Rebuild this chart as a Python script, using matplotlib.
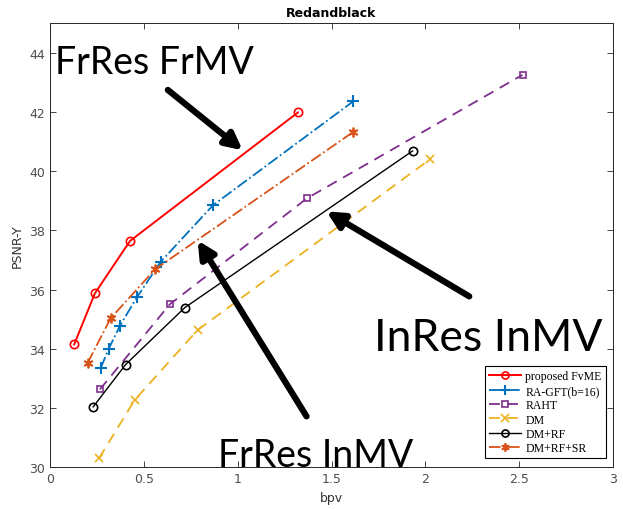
import matplotlib
matplotlib.use("Agg")
from matplotlib import pyplot as plt

# rate-distortion curves (bpv, PSNR-Y)
fvme_bpv = [0.129, 0.239, 0.426, 1.321]
fvme_psnr = [34.15, 35.87, 37.64, 41.98]
ragft_bpv = [0.271, 0.312, 0.372, 0.463, 0.590, 0.869, 1.617]
ragft_psnr = [33.36, 33.99, 34.77, 35.74, 36.94, 38.85, 42.36]
raht_bpv = [0.266, 0.638, 1.369, 2.518]
raht_psnr = [32.63, 35.50, 39.08, 43.25]
dm_bpv = [0.261, 0.451, 0.786, 2.025]
dm_psnr = [30.30, 32.27, 34.63, 40.40]
dmrf_bpv = [0.230, 0.403, 0.718, 1.932]
dmrf_psnr = [32.04, 33.47, 35.39, 40.68]
dmrfsr_bpv = [0.201, 0.323, 0.559, 1.613]
dmrfsr_psnr = [33.53, 35.03, 36.68, 41.31]

labels = ["proposed FvME", "RA-GFT(b=16)", "RAHT", "DM", "DM+RF", "DM+RF+SR"]
x_ticks = [0, 0.5, 1, 1.5, 2, 2.5, 3]
y_ticks = [30, 32, 34, 36, 38, 40, 42, 44]

fig = plt.figure(figsize=(6.23, 5.10), dpi=100)
ax = fig.add_axes([50 / 623, 41.7 / 510, 563 / 623, 444.3 / 510])

ax.plot(fvme_bpv, fvme_psnr, color=(1, 0, 0), ls="-", lw=1.4, marker="o",
        ms=6, mfc="none", mew=1.2, label=labels[0])
ax.plot(ragft_bpv, ragft_psnr, color=(0, 0.447, 0.741), ls="-.", lw=1.3,
        marker="+", ms=8, mew=1.5, label=labels[1])
ax.plot(raht_bpv, raht_psnr, color=(0.494, 0.184, 0.556), ls=(0, (6, 4)), lw=1.3,
        marker="s", ms=5, mfc="none", mew=1.2, label=labels[2])
ax.plot(dm_bpv, dm_psnr, color=(0.929, 0.694, 0.125), ls=(0, (6, 4)), lw=1.3,
        marker="x", ms=6, mew=1.2, label=labels[3])
ax.plot(dmrf_bpv, dmrf_psnr, color="black", ls="-", lw=1.0, marker="o",
        ms=6, mfc="none", mew=1.2, label=labels[4])
ax.plot(dmrfsr_bpv, dmrfsr_psnr, color=(0.85, 0.325, 0.098), ls="-.", lw=1.3,
        marker=(6, 2, 0), ms=7, mew=1.3, label=labels[5])

ax.set_xlim(0, 3)
ax.set_ylim(30, 45)
ax.set_xticks(x_ticks)
ax.set_xticklabels(["0", "0.5", "1", "1.5", "2", "2.5", "3"])
ax.set_yticks(y_ticks)
ax.tick_params(direction="in", top=True, right=True, length=4, width=0.6,
               labelsize=9, colors=(0.15, 0.15, 0.15), labelcolor=(0.3, 0.3, 0.3))
for s in ax.spines.values():
    s.set_color((0.15, 0.15, 0.15))
    s.set_linewidth(0.7)

ax.set_xlabel("bpv", fontsize=9, color=(0.2, 0.2, 0.2))
ax.set_ylabel("PSNR-Y", fontsize=9, color=(0.2, 0.2, 0.2))
ax.set_title("Redandblack", fontsize=9, fontweight="bold", pad=5)

leg = ax.legend(loc="lower right", prop={"family": "Liberation Serif", "size": 8.5},
                fancybox=False, edgecolor="black", framealpha=1, borderpad=0.35,
                labelspacing=0.2, handlelength=2.7, handletextpad=0.35,
                borderaxespad=0, bbox_to_anchor=(0.987, 0.02), markerscale=0.85)
leg.get_frame().set_linewidth(0.8)

# overlaid annotations
ax.text(0.027, 43.3, "FrRes FrMV", family="Lato", size=27)
ax.text(1.729, 33.95, "InRes InMV", family="Lato", size=32)
ax.text(0.894, 30.05, "FrRes InMV", family="Lato", size=27, clip_on=False)

arrow = dict(arrowstyle="-|>,head_length=1.0,head_width=0.5", color="black",
             lw=4.5, shrinkA=0, shrinkB=0)
ax.annotate("", xy=(1.027, 40.70), xytext=(0.628, 42.74), arrowprops=arrow)
ax.annotate("", xy=(1.473, 38.64), xytext=(2.234, 35.77), arrowprops=arrow)
ax.annotate("", xy=(0.787, 37.66), xytext=(1.367, 31.72), arrowprops=arrow)

fig.savefig("out.png", dpi=100)
